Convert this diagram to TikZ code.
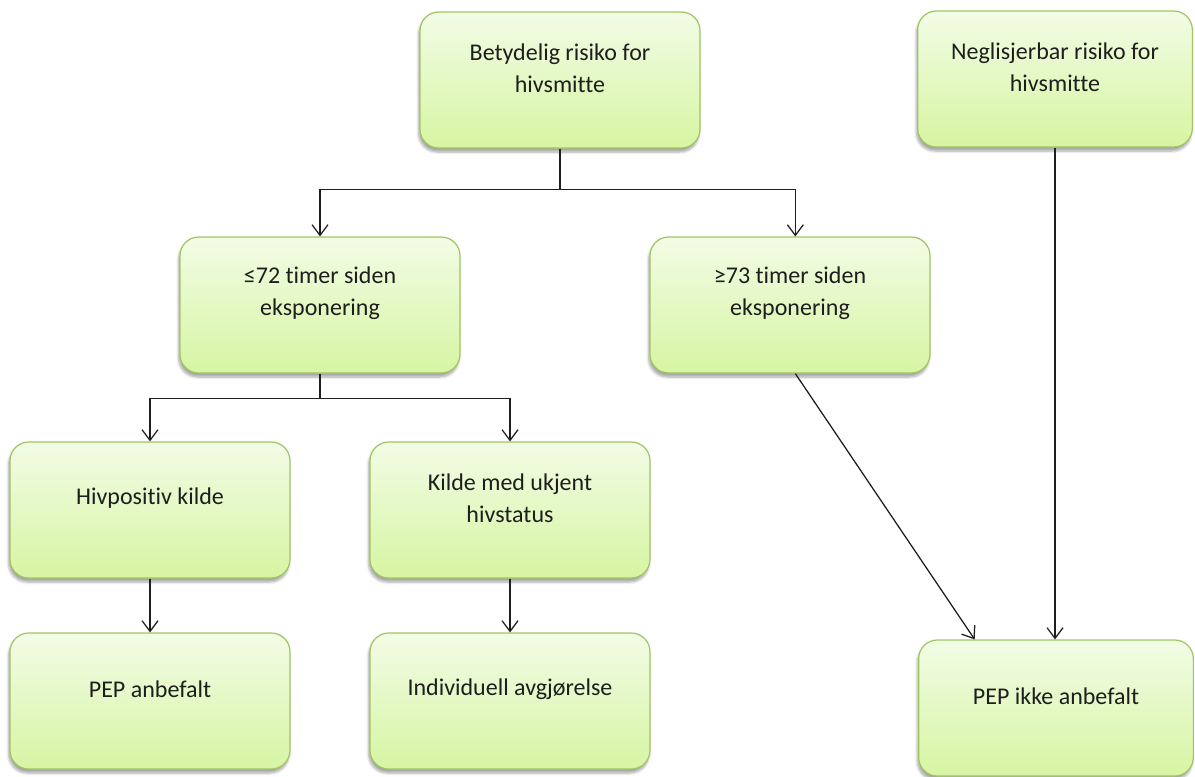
\documentclass[tikz,border=0pt]{standalone}
\usepackage{fontspec}
\setmainfont{Carlito}[Ligatures=NoCommon]
\usetikzlibrary{arrows.meta,shadows.blur}

\definecolor{bokkant}{RGB}{160,196,98}
\definecolor{boktopp}{RGB}{242,252,230}
\definecolor{bokbunn}{RGB}{214,245,162}
\definecolor{strek}{RGB}{30,30,30}

\begin{document}
\begin{tikzpicture}[x=0.75pt,y=-0.75pt,
    boks/.style={draw=bokkant, line width=0.9pt, rounded corners=14pt,
      top color=boktopp, bottom color=bokbunn,
      minimum width=210pt, minimum height=102pt,
      blur shadow={shadow xshift=-1pt, shadow yshift=-3pt, shadow blur steps=6, shadow opacity=35}},
    tekst/.style={font=\fontsize{18}{24}\selectfont, align=center, text=strek},
    pil/.style={-{Straight Barb[length=8pt,width=12pt]}, line width=0.95pt, draw=strek}]
        % Rammen for hele bildet
        \useasboundingbox (0,0) rectangle (1195,776);

        % Boksene (midtpunkt i piksler)
        \node[boks] (b1) at (560,80) {};                          % Betydelig risiko
        \node[boks, minimum width=206pt] (b2) at (1055,79) {};    % Neglisjerbar risiko
        \node[boks] (b3) at (320,305) {};                         % <= 72 timer
        \node[boks] (b4) at (790,305) {};                         % >= 73 timer
        \node[boks] (b5) at (150,510) {};                         % Hivpositiv kilde
        \node[boks] (b6) at (510,510) {};                         % Ukjent hivstatus
        \node[boks] (b7) at (150,701) {};                         % PEP anbefalt
        \node[boks] (b8) at (510,701) {};                         % Individuell avgjørelse
        \node[boks, minimum width=206pt] (b9) at (1056,708) {};   % PEP ikke anbefalt

        % Teksten sitter litt over midten av boksen
        \node[tekst] (t1) at ([yshift=9pt]b1.center) {Betydelig risiko for\\hivsmitte};
        \node[tekst] (t2) at ([yshift=9pt]b2.center) {Neglisjerbar risiko for\\hivsmitte};
        \node[tekst] (t3) at ([yshift=9pt]b3.center) {≤72 timer siden\\eksponering};
        \node[tekst] (t4) at ([yshift=9pt]b4.center) {≥73 timer siden\\eksponering};
        \node[tekst] (t5) at ([yshift=9pt]b5.center) {Hivpositiv kilde};
        \node[tekst] (t6) at ([yshift=9pt]b6.center) {Kilde med ukjent\\hivstatus};
        \node[tekst] (t7) at ([yshift=9pt]b7.center) {PEP anbefalt};
        \node[tekst] (t8) at ([yshift=9pt]b8.center) {Individuell avgjørelse};
        \node[tekst] (t9) at ([yshift=9pt]b9.center) {PEP ikke anbefalt};

        % Knekkpunkter for forgreningene
        \path (b1.south) ++(0,41) coordinate (k1);
        \path (b3.south) ++(0,25) coordinate (k3);
        \coordinate (b4ut) at ([xshift=4pt]b4.north);
        \coordinate (b4ned) at ([xshift=4pt]b4.south);

        % Pilene
        \draw[pil] (b1.south) -- (k1) -| (b3.north);
        \draw[pil] (k1) -| (b4ut);
        \draw[pil] (b3.south) -- (k3) -| (b5.north);
        \draw[pil] (k3) -| (b6.north);
        \draw[pil] (b5.south) -- (b7.north);
        \draw[pil] (b6.south) -- (b8.north);
        \draw[pil] (b4ned) -- ([xshift=-61pt]b9.north);
        \draw[pil] (b2.south) -- (b2.south |- b9.north);
      \end{tikzpicture}
\end{document}
